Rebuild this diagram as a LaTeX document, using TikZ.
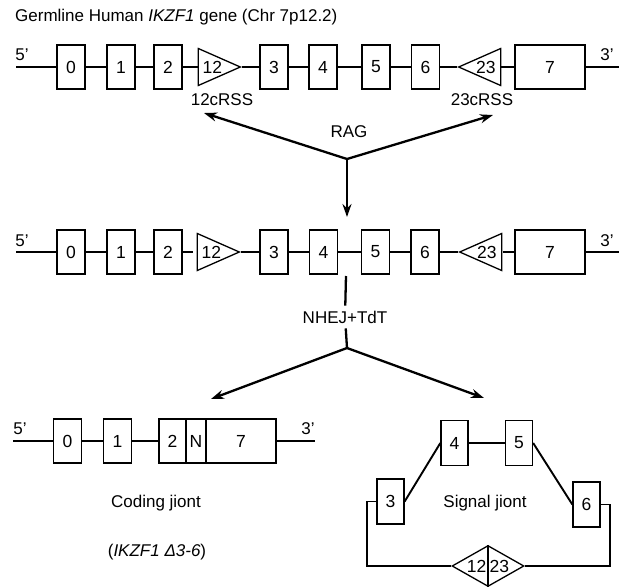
\documentclass[tikz,border=0pt]{standalone}
\usepackage{fontspec}
\setmainfont{Liberation Sans}
\usetikzlibrary{arrows.meta,shapes.geometric,calc}
\begin{document}
\begin{tikzpicture}[x=1pt,y=-1pt,
  exon/.style={rectangle, draw, line width=1.3pt, fill=white, minimum width=#1,
    minimum height=44pt, inner sep=0pt, font=\fontsize{17.5}{19}\selectfont},
  exon/.default=28pt,
  rss/.style={isosceles triangle, isosceles triangle stretches, draw, line width=1.3pt,
    fill=white, minimum width=37pt, minimum height=42pt, inner sep=0pt,
    shape border rotate=#1, anchor=apex},
  num/.style={inner sep=0pt, font=\fontsize{17.5}{19}\selectfont},
  lbl/.style={inner sep=0pt, font=\fontsize{17}{19}\selectfont},
  dna/.style={line width=1.9pt},
  arr/.style={-{Stealth[length=13pt,width=9pt]}, line width=2.3pt}
]
\useasboundingbox (0,0) rectangle (625,587);
\node[lbl, anchor=west] (title) at (15,17) {Germline Human \textit{IKZF1} gene (Chr 7p12.2)};

\coordinate (a5) at (16,67);
\coordinate (a3) at (619,67);
\node[lbl] (a5l) at (22,55) {5'};
\node[lbl] (a3l) at (607,55) {3'};
\node[exon] (a0) at (71,67) {0};
\node[exon] (a1) at (121,67) {1};
\node[exon] (a2) at (168,67) {2};
\node[rss=0] (a12) at (242,67) {};
\node[num] (a12n) at ($(a12.lower side)!0.33!(a12.apex)$) {12};
\node[exon] (ae3) at (274,67) {3};
\node[exon] (ae4) at (323,67) {4};
\node[exon] (ae5) at (376,67) {5};
\node[exon] (ae6) at (425.5,67) {6};
\node[rss=180] (a23) at (457,67) {};
\node[num] (a23n) at ($(a23.lower side)!0.35!(a23.apex)$) {23};
\node[exon=70pt] (ae7) at (550,67) {7};
\draw[dna] (a5) -- (a0) -- (a1) -- (a2) -- (a12) -- (ae3) -- (ae4) -- (ae5) -- (ae6)
  -- (a23) -- (ae7) -- (a3);
\node[lbl] (rss12) at (222,100) {12cRSS};
\node[lbl] (rss23) at (482,100) {23cRSS};

\coordinate (rag) at (347,159);
\coordinate (rag12) at (204,113);
\coordinate (rag23) at (493,115);
\coordinate (ragdn) at (347,217);
\node[lbl] (ragl) at (349,132) {RAG};
\draw[arr] (rag) -- (rag12);
\draw[arr] (rag) -- (rag23);
\draw[arr] (rag) -- (ragdn);

\coordinate (b5) at (16,252);
\coordinate (b3) at (619,252);
\coordinate (bgap1) at (193,252);
\coordinate (bgap2) at (503,252);
\node[lbl] (b5l) at (22,241) {5'};
\node[lbl] (b3l) at (607,241) {3'};
\node[exon] (b0) at (71,252) {0};
\node[exon] (b1) at (121,252) {1};
\node[exon] (b2) at (168,252) {2};
\node[rss=0] (b12) at (241,252) {};
\node[num] (b12n) at ($(b12.lower side)!0.33!(b12.apex)$) {12};
\node[exon] (be3) at (274,252) {3};
\node[exon] (be4) at (323.5,252) {4};
\node[exon] (be5) at (375.5,252) {5};
\node[exon] (be6) at (425,252) {6};
\node[rss=180] (b23) at (458,252) {};
\node[num] (b23n) at ($(b23.lower side)!0.35!(b23.apex)$) {23};
\node[exon=70pt] (be7) at (550,252) {7};
\draw[dna] (b5) -- (b0) -- (b1) -- (b2) -- (bgap1);
\draw[dna] (b12) -- (be3) -- (be4) -- (be5) -- (be6) -- (b23);
\draw[dna] (bgap2) -- (be7) -- (b3);

\coordinate (cut) at (346,276);
\coordinate (split) at (347,348);
\coordinate (cdj) at (211,399);
\coordinate (csj) at (484,398);
\node[lbl, inner sep=5pt] (nhej) at (345,317) {NHEJ+TdT};
\draw[line width=2.3pt] (cut) -- (nhej) -- (split);
\draw[arr] (split) -- (cdj);
\draw[arr] (split) -- (csj);

\coordinate (c5) at (13,441);
\coordinate (c3) at (315,441);
\node[lbl] (c5l) at (20,429) {5'};
\node[lbl] (c3l) at (308,429) {3'};
\node[exon] (c0) at (67.5,441) {0};
\node[exon] (c1) at (117.5,441) {1};
\node[exon=27pt] (c2) at (172.5,441) {2};
\node[exon=20pt] (cn) at (196,441) {N};
\node[exon=70pt] (ce7) at (241,441) {7};
\draw[dna] (c5) -- (c0) -- (c1) -- (c2);
\draw[dna] (ce7) -- (c3);
\node[lbl] (cjl) at (156,503) {Coding jiont};
\node[lbl] (cjd) at (157,552) {(\textit{IKZF1 Δ3-6})};

\node[exon=27pt, minimum height=45pt] (s3) at (390.5,501.5) {3};
\node[exon=27pt, minimum height=45pt] (s4) at (454.5,443) {4};
\node[exon=27pt, minimum height=45pt] (s5) at (519,443) {5};
\node[exon=27pt, minimum height=45pt] (s6) at (586.5,504.5) {6};
\node[diamond, draw, line width=1.3pt, fill=white, aspect=1.75, minimum width=72pt,
  minimum height=41pt, inner sep=0pt] (sj) at (488,566) {};
\draw[line width=1.3pt] (sj.north) -- (sj.south);
\node[num, anchor=east] (sj12) at ($(sj.center)+(-1.5,0)$) {12};
\node[num, anchor=west] (sj23) at ($(sj.center)+(1.5,0)$) {23};
\draw[dna] (s3.east) -- (s4.west);
\draw[dna] (s4) -- (s5);
\draw[dna] (s5.east) -- (s6.west);
\draw[dna] (s3.west) -- ++(-9,0) |- (sj.west);
\draw[dna] (s6.east) -- ++(9,0) |- (sj.east);
\node[lbl] (sjl) at (485,503) {Signal jiont};
\end{tikzpicture}
\end{document}
